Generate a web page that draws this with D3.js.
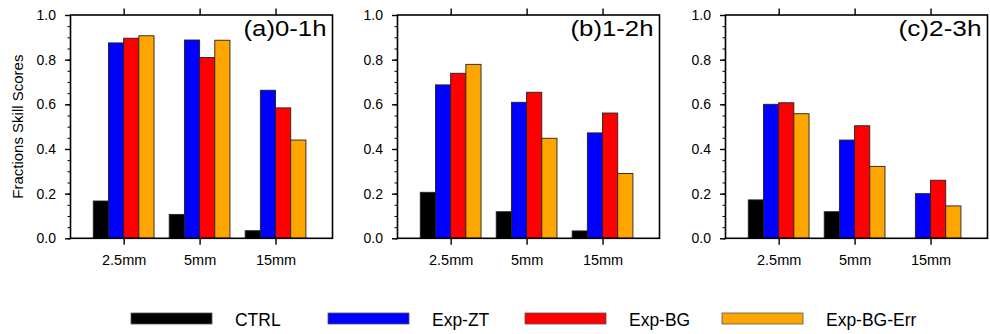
<!DOCTYPE html>
<html><head><meta charset="utf-8">
<script src="https://cdn.jsdelivr.net/npm/d3@7"></script>
<style>
body{margin:0;background:#fff}
svg{display:block}
text{font-family:"Liberation Sans",Arial,Helvetica,sans-serif;fill:#000}
</style>
</head><body><svg id="chart" width="990" height="334"></svg>
<script>
// Precipitation thresholds (categories) and experiments (series)
const thresholds = ["2.5mm", "5mm", "15mm"];
const seriesNames = ["CTRL", "Exp-ZT", "Exp-BG", "Exp-BG-Err"];
const seriesColors = ["#000000", "#0000ff", "#ff0000", "#ffa500"];
const panelTitles = ["(a)0-1h", "(b)1-2h", "(c)2-3h"];
const yTicks = [0, 0.2, 0.4, 0.6, 0.8, 1.0];

// Fractions Skill Scores: one row per lead-time window, one value per threshold
const ctrl     = [[0.167, 0.107, 0.034], [0.206, 0.119, 0.033], [0.172, 0.119, 0.0]];
const expZT    = [[0.875, 0.888, 0.663], [0.687, 0.609, 0.472], [0.600, 0.440, 0.200]];
const expBG    = [[0.896, 0.810, 0.584], [0.739, 0.654, 0.561], [0.607, 0.504, 0.260]];
const expBGErr = [[0.907, 0.887, 0.440], [0.779, 0.448, 0.290], [0.558, 0.322, 0.145]];

const seriesData = [ctrl, expZT, expBG, expBGErr];

const svg = d3.select("#chart");
const panelLeft = [70.5, 397.5, 725.5];
const pw = 262, plotTop = 15, ph = 223.3;
const barW = 0.2; // bar width in category units

const x = d3.scaleLinear().domain([0.3, 3.75]).range([0, pw]);
const y = d3.scaleLinear().domain([0, 1]).range([ph, 0]);

panelTitles.forEach((title, p) => {
  const g = svg.append("g").attr("transform", `translate(${panelLeft[p]},${plotTop})`);

  // bars
  seriesData.forEach((s, si) => {
    g.selectAll(null)
      .data(thresholds.map((t, ci) => ({ pos: ci + 1, v: s[p][ci] })).filter(d => d.v > 0))
      .join("rect")
      .attr("x", d => x(d.pos + (si - 2) * barW))
      .attr("width", x(barW) - x(0))
      .attr("y", d => y(d.v))
      .attr("height", d => y(0) - y(d.v))
      .attr("fill", seriesColors[si])
      .attr("stroke", "#222")
      .attr("stroke-width", 0.9);
  });

  // minor y ticks
  g.append("g")
    .call(d3.axisLeft(y).tickValues(d3.range(0, 21).map(i => i * 0.05)).tickSize(3).tickFormat(""))
    .call(a => a.select(".domain").remove())
    .selectAll("line").attr("stroke-width", 1);

  // major y ticks + labels
  g.append("g")
    .call(d3.axisLeft(y).tickValues(yTicks).tickSize(5.5).tickPadding(9).tickFormat(d3.format(".1f")))
    .call(a => a.select(".domain").remove())
    .call(a => a.selectAll("line").attr("stroke-width", 1.4))
    .call(a => a.selectAll("text").attr("font-size", 14).attr("font-family", null));

  // bottom ticks + category labels
  g.append("g").attr("transform", `translate(0,${ph})`)
    .call(d3.axisBottom(x).tickValues([1, 2, 3]).tickSize(6.5).tickPadding(10)
      .tickFormat(d => thresholds[d - 1]))
    .call(a => a.select(".domain").remove())
    .call(a => a.selectAll("line").attr("stroke-width", 1.4))
    .call(a => a.selectAll("text").attr("font-size", 14.5).attr("font-family", null));

  // top ticks
  g.append("g")
    .call(d3.axisTop(x).tickValues([1, 2, 3]).tickSize(6.5).tickFormat(""))
    .call(a => a.select(".domain").remove())
    .call(a => a.selectAll("line").attr("stroke-width", 1.4));

  // frame
  g.append("rect").attr("x", 0).attr("y", 0).attr("width", pw).attr("height", ph)
    .attr("fill", "none").attr("stroke", "#000").attr("stroke-width", 1.6);

  // panel title
  g.append("text").attr("x", pw - 6).attr("y", 21)
    .attr("text-anchor", "end").attr("font-size", 22)
    .attr("textLength", 83).attr("lengthAdjust", "spacingAndGlyphs")
    .text(title);
});

// y-axis title
svg.append("text")
  .attr("transform", `translate(22.5,${plotTop + ph / 2}) rotate(-90)`)
  .attr("text-anchor", "middle").attr("font-size", 15)
  .text("Fractions Skill Scores");

// legend
const legX = d3.scaleLinear().domain([0, 3]).range([131, 722]);
const leg = svg.append("g");
seriesNames.forEach((name, i) => {
  leg.append("rect").attr("x", legX(i)).attr("y", 313).attr("width", 81).attr("height", 11)
    .attr("fill", seriesColors[i]).attr("stroke", "#555").attr("stroke-width", 0.8);
  const t = leg.append("text").attr("x", legX(i) + 104).attr("y", 326)
    .attr("font-size", 19).text(name);
  const w = t.node().getComputedTextLength();
  t.attr("textLength", w * 0.92).attr("lengthAdjust", "spacingAndGlyphs");
});
</script>
</body></html>
